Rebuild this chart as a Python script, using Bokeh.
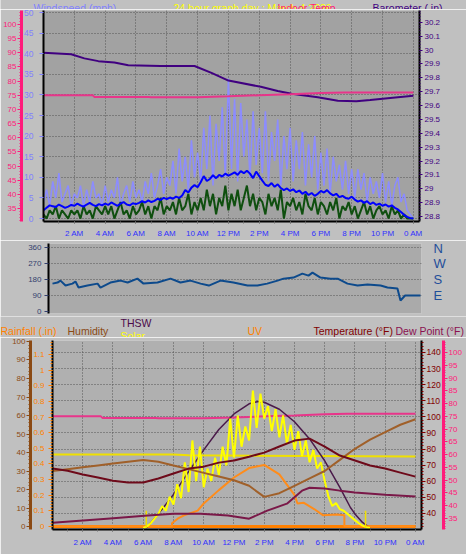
from bokeh.plotting import figure
from bokeh.models import Range1d, LinearAxis, FixedTicker, NumeralTickFormatter
from bokeh.core.properties import value
from bokeh.layouts import column
from bokeh.embed import file_html
from bokeh.resources import INLINE

FONT = "Liberation Sans"
OUTER = "#c0c0c0"

# ---------------- data ----------------
hour_ticks = [2, 4, 6, 8, 10, 12, 14, 16, 18, 20, 22, 24]
hour_labels = ["2 AM", "4 AM", "6 AM", "8 AM", "10 AM", "12 PM",
               "2 PM", "4 PM", "6 PM", "8 PM", "10 PM", "0 AM"]

top_titles = ["Windspeed (mph)", "24 hour graph day : March 4 2026", "Indoor Temp. ---",
              "Barometer (.in)"]
bottom_titles = ["Rainfall (.in)", "Humidity", "THSW", "Solar", "UV", "Temperature (°F)",
                 "Dew Point (°F)"]

# wind, every 12 minutes (hours)
wind_t = [i / 5 for i in range(121)]
wind_gust = [4, 7, 3, 9, 5, 11, 4, 6, 8, 3, 6,
             5, 8, 3, 7, 4, 9, 5, 6, 3, 8,
             4, 7, 5, 10, 3, 6, 8, 4, 9, 5,
             7, 4, 9, 6, 11, 5, 8, 12, 6, 10,
             8, 14, 6, 17, 9, 15, 7, 19, 10, 16,
             9, 22, 12, 25, 8, 23, 14, 27, 10, 34,
             12, 29, 9, 28, 15, 24, 10, 26, 13, 22,
             11, 26, 9, 21, 14, 24, 8, 20, 12, 22,
             9, 19, 12, 21, 8, 18, 10, 20, 7, 16,
             8, 17, 6, 15, 9, 13, 7, 14, 6, 12,
             5, 12, 7, 11, 4, 10, 6, 9, 5, 11,
             4, 9, 3, 8, 10, 4, 6, 2, 1, 0]
wind_avg = [2.0, 2.6, 3.2, 3.0, 2.8, 3.4, 3.0, 2.6, 2.9, 3.3, 3.1,
            3.6, 3.2, 2.9, 3.4, 3.8, 3.3, 3.0, 3.5, 3.2, 3.6,
            3.3, 3.9, 3.5, 3.1, 3.6, 4.0, 3.4, 3.2, 3.7, 3.5,
            3.8, 4.2, 3.9, 4.4, 4.0, 4.3, 4.8, 4.5, 5.0, 4.7,
            5.1, 4.8, 5.3, 5.0, 5.6, 6.9, 6.3, 7.5, 8.1, 7.6,
            8.8, 10.3, 9.1, 9.6, 10.5, 9.8, 10.6, 10.2, 10.9, 10.4,
            10.8, 11.2, 10.6, 11.5, 11.0, 11.6, 10.9, 9.8, 11.4, 10.3,
            9.2, 8.2, 7.9, 8.6, 7.7, 8.3, 7.4, 6.9, 7.3, 6.7,
            7.1, 6.4, 6.8, 6.0, 6.5, 5.7, 6.2, 5.5, 6.0, 6.7,
            6.3, 6.9, 6.1, 5.6, 6.0, 5.2, 5.5, 5.0, 4.8, 5.3,
            4.6, 4.1, 4.4, 3.8, 4.2, 3.5, 3.9, 3.3, 3.6, 3.1,
            3.4, 2.9, 3.2, 2.6, 2.2, 1.6, 0.9, 0.4, 0.1, 0.0]
wind_speed = [1, 0, 2, 1, 3, 0, 2, 1, 0, 2, 1,
              2, 0, 3, 1, 2, 0, 3, 2, 1, 3,
              1, 3, 0, 2, 4, 1, 2, 0, 3, 1,
              2, 4, 1, 3, 0, 3, 2, 5, 1, 3,
              2, 4, 1, 5, 2, 3, 6, 1, 4, 2,
              5, 2, 7, 3, 6, 1, 5, 3, 8, 2,
              6, 3, 7, 2, 5, 8, 3, 6, 2, 5,
              4, 1, 6, 3, 5, 2, 7, 0, 4, 3,
              5, 2, 4, 1, 6, 3, 2, 5, 1, 4,
              3, 1, 4, 2, 5, 0, 3, 2, 4, 1,
              3, 0, 2, 4, 1, 3, 0, 2, 3, 1,
              2, 0, 3, 1, 2, 0, 1, 0, 0, 0]

baro_t = [0.0, 1.8, 2.65, 3.56, 4.6, 5.5, 7.6, 9.8, 10.9, 12.0, 14.1, 15.2,
          16.1, 17.8, 19.1, 20.3, 21.2, 22.5, 24.0]
baro = [29.98, 29.97, 29.94, 29.92, 29.91, 29.89, 29.885, 29.885, 29.835, 29.78,
        29.735, 29.705, 29.685, 29.66, 29.635, 29.63, 29.64, 29.655, 29.67]

indoor_t = [0, 3.2, 3.3, 6.8, 7.0, 10.0, 12.0, 14.0, 16.0, 18.0, 19.5, 24.0]
indoor_temp = [75.0, 75.0, 74.4, 74.4, 74.3, 74.3, 74.6, 75.0, 75.3, 75.8, 76.0, 76.0]

dir_t = [0.0, 0.33, 0.52, 0.85, 1.3, 1.5, 1.7, 2.28, 2.94, 3.13, 3.78, 4.44, 4.9,
         5.54, 5.94, 6.85, 7.7, 8.35, 9.0, 9.66, 10.2, 10.96, 11.8, 12.72, 13.37,
         14.0, 14.68, 15.07, 15.72, 16.3, 16.7, 16.96, 17.48, 18.13, 18.6, 19.24,
         19.9, 20.55, 21.4, 21.85, 22.5, 22.7, 23.0, 24.0]
wind_dir = [157, 163, 174, 146, 157, 169, 135, 146, 157, 135, 163, 174, 163,
            185, 157, 163, 185, 163, 174, 157, 146, 174, 163, 146, 146,
            157, 174, 185, 191, 213, 202, 219, 191, 185, 185, 157,
            146, 152, 146, 135, 129, 62, 90, 90]
compass_ticks = [90, 180, 270, 360]
compass_labels = ["E", "S", "W", "N"]

bt = [0, 1, 2, 3, 4, 5, 6, 7, 8, 9, 10, 11, 12, 13, 14, 15, 16, 17, 18, 19, 20, 21, 22, 23, 24]
temperature = [67.9, 66.6, 64.2, 62.3, 60.4, 59.2, 59.2, 61.7, 64.8, 67.9, 69.1, 71.6, 72.9,
               75.3, 77.8, 81.6, 85.3, 86.5, 81.6, 76.0, 72.9, 69.8, 67.9, 65.4, 62.9]
humidity = [30, 31, 32, 33, 34, 35, 36, 35, 33, 31, 29, 27, 25, 22, 16, 18, 22, 26, 30,
            36, 42, 47, 51, 55, 58]
dew_t = [0, 3.6, 6.3, 8.0, 9.8, 11.6, 13.0, 14.2, 15.5, 16.5, 17, 18, 19, 20, 22, 24]
dew_point = [34.3, 36.8, 38.7, 39.9, 39.9, 38.7, 36.8, 41.8, 46.1, 54.2, 56.0, 55.5,
             54.2, 53.0, 51.7, 50.5]
in_hum_t = [0, 8, 9, 24]
in_humidity = [38.9, 38.9, 38.5, 37.8]
rain_t = [0, 24]
rain = [0.0, 0.0]
uv_t = [0, 7.9, 7.9, 8.3, 8.7, 9.6, 10.0, 11, 12, 13, 14, 15, 16, 16.2, 16.6, 17.3, 17.9,
        18.8, 19.3, 19.3, 24]
uv = [0, 0, 0.2, 0.5, 0.7, 1.0, 1.45, 2.3, 3.1, 3.7, 3.9, 3.3, 2.0, 1.45, 1.5, 1.1, 0.7,
      0.75, 0.7, 0, 0]
solar_t = [6 + i / 4 for i in range(61)]
solar = [0, 10, 30, 60, 90, 140, 110, 200, 150, 280, 190, 420, 230, 560, 300, 520,
         260, 380, 300, 450, 340, 520, 400, 700, 450, 720, 520, 650, 560, 880, 640, 860,
         700, 780, 620, 760, 580, 720, 540, 660, 500, 620, 460, 560, 420, 500, 380, 420,
         300, 200, 140, 160, 120, 110, 90, 70, 50, 30, 15, 5, 0]
clear_t = [6.2, 7, 7.7, 8, 9, 10, 11, 12, 13, 13.6, 14, 15, 16, 17, 18, 19, 19.7, 20, 20.5, 21]
clear_sky = [0, 90, 176, 215, 360, 500, 630, 730, 795, 810, 805, 760, 680, 570, 430, 260,
             131, 90, 35, 0]
sun_events = [6.2, 20.7]


def style_axis(ax, color, line_color=None, line_width=1, tick_out=4, minor_out=0,
               standoff=2, size="8px"):
    ax.axis_line_color = line_color
    ax.axis_line_width = line_width
    ax.major_tick_line_color = color
    ax.major_tick_out = tick_out
    ax.major_tick_in = 0
    ax.minor_tick_line_color = color
    ax.minor_tick_out = minor_out
    ax.minor_tick_in = 0
    ax.major_label_text_color = color
    ax.major_label_text_font = FONT
    ax.major_label_text_font_size = size
    ax.major_label_standoff = standoff


def style_grid(g):
    g.grid_line_color = "#555555"
    g.grid_line_dash = "1 2"
    g.grid_line_width = 1


def strip(height, xs, ys, texts, colors, margin=(0, 0, 0, 0)):
    s = figure(width=466, height=height, x_range=Range1d(0, 466), y_range=Range1d(0, height),
               output_backend="svg", toolbar_location=None, min_border=0, frame_align=False,
               x_axis_location=None, y_axis_location=None, background_fill_color=OUTER,
               border_fill_color=OUTER, outline_line_color=None, margin=margin)
    s.grid.visible = False
    s.text(x=xs, y=ys, text=texts, text_color=colors, text_font=value(FONT),
           text_font_size=value("10.5px"), text_baseline="alphabetic")
    return s


# ---------------- title strip (top): 21px tall, shifted up so that 9px show ----------------
strip_top = strip(21, [33, 173, 277, 372], [1.5, 1.5, 1.5, 1.5], top_titles,
                  ["#8080ff", "#ffff00", "#ff1a75", "#400080"], margin=(-12, 0, 0, 0))

# ---------------- top panel ----------------
top = figure(width=466, height=231, x_range=Range1d(0, 24.4), y_range=Range1d(-0.72, 50.48),
             output_backend="svg", toolbar_location=None, frame_align=False,
             min_border_left=42, min_border_right=47, min_border_top=1, min_border_bottom=16,
             background_fill_color="#a2a2a2", border_fill_color=OUTER, outline_line_color=None)
top.extra_y_ranges = {"baro": Range1d(28.764, 30.285), "pink": Range1d(30.48, 104.87)}

xa = top.xaxis[0]
xa.ticker = FixedTicker(ticks=hour_ticks, minor_ticks=list(range(1, 25)))
xa.major_label_overrides = dict(zip(hour_ticks, hour_labels))
style_axis(xa, "#3030ff", "black", 2, tick_out=2, minor_out=2, standoff=5)
xa.major_tick_line_color = "#707070"
xa.minor_tick_line_color = "#707070"

wa = top.yaxis[0]
wa.ticker = FixedTicker(ticks=list(range(0, 51, 5)))
style_axis(wa, "#8080ff", "black", 2, tick_out=4, standoff=6, size="8.5px")

pa = LinearAxis(y_range_name="pink",
                ticker=FixedTicker(ticks=list(range(35, 101, 5)), minor_ticks=list(range(31, 105))))
style_axis(pa, "#ff1a7a", "#ff1a7a", 3, tick_out=4, minor_out=2, standoff=1)
top.add_layout(pa, "left")

ba = LinearAxis(y_range_name="baro",
                ticker=FixedTicker(ticks=[28.8 + i / 10 for i in range(15)],
                                   minor_ticks=[28.78 + i / 50 for i in range(76)]),
                formatter=NumeralTickFormatter(format="0.[0]"))
style_axis(ba, "#400080", "black", 2, tick_out=3, minor_out=1, standoff=2)
top.add_layout(ba, "right")

style_grid(top.xgrid[0])
style_grid(top.ygrid[0])

top.line(wind_t, wind_gust, line_color="#8c8cff", line_width=1.5)
top.line(wind_t, wind_speed, line_color="#0f4f0f", line_width=2)
top.line(wind_t, wind_avg, line_color="#0000ff", line_width=2)
top.line(baro_t, baro, y_range_name="baro", line_color="#400080", line_width=2)
top.line(indoor_t, indoor_temp, y_range_name="pink", line_color="#e8358a", line_width=2)

# ---------------- middle panel ----------------
mid = figure(width=466, height=76, x_range=Range1d(-0.26, 24.07), y_range=Range1d(-11, 382.5),
             output_backend="svg", toolbar_location=None, x_axis_location=None, frame_align=False,
             min_border_left=48, min_border_right=45, min_border_top=3, min_border_bottom=3,
             background_fill_color="#aaaaaa", border_fill_color=OUTER, outline_line_color=None)
da = mid.yaxis[0]
da.ticker = FixedTicker(ticks=[0, 90, 180, 270, 360])
style_axis(da, "#34406e", "black", 2, tick_out=4, standoff=3)
ca = LinearAxis(ticker=FixedTicker(ticks=compass_ticks),
                major_label_overrides=dict(zip(compass_ticks, compass_labels)))
style_axis(ca, "#1f4e9a", None, 1, tick_out=0, standoff=12, size="13px")
mid.add_layout(ca, "right")
mid.xgrid.visible = False
style_grid(mid.ygrid[0])
mid.ygrid[0].ticker = FixedTicker(ticks=compass_ticks)
mid.line(dir_t, wind_dir, line_color="#0d4a8c", line_width=2)

# ---------------- title strip (bottom) ----------------
strip_bot = strip(21, [0, 67, 120, 120, 247, 313, 395], [7, 7, 15, 2, 7, 7, 7], bottom_titles,
                  ["#ff8000", "#8b4a14", "#4a0a4a", "#ffff00", "#ff8000", "#800000", "#8b1050"])

# ---------------- bottom panel ----------------
bot = figure(width=466, height=217, x_range=Range1d(0, 24.4), y_range=Range1d(30.06, 147.45),
             output_backend="svg", toolbar_location=None, y_axis_location="right", frame_align=False,
             min_border_left=52, min_border_right=45, min_border_top=3, min_border_bottom=25,
             background_fill_color="#b0b0b0", border_fill_color=OUTER, outline_line_color=None)
bot.extra_y_ranges = {"pink": Range1d(30.7, 104.7), "hum": Range1d(-1.62, 100.54),
                      "rain": Range1d(-0.019, 1.19), "solar": Range1d(-10, 1200),
                      "uv": Range1d(-0.2, 11.8)}

bx = bot.xaxis[0]
bx.ticker = FixedTicker(ticks=hour_ticks, minor_ticks=list(range(1, 25)))
bx.major_label_overrides = dict(zip(hour_ticks, hour_labels))
style_axis(bx, "#3030ff", "black", 2, tick_out=2, minor_out=2, standoff=6)
bx.major_tick_line_color = "#707070"
bx.minor_tick_line_color = "#707070"

ta = bot.yaxis[0]
ta.ticker = FixedTicker(ticks=list(range(40, 141, 10)), minor_ticks=list(range(32, 148, 2)))
style_axis(ta, "#800000", "black", 2, tick_out=4, minor_out=2, standoff=1, size="8.5px")

pb = LinearAxis(y_range_name="pink",
                ticker=FixedTicker(ticks=list(range(35, 101, 5)), minor_ticks=list(range(31, 105))))
style_axis(pb, "#ff1a7a", "#ff1a7a", 3, tick_out=4, minor_out=2, standoff=1)
bot.add_layout(pb, "right")

ra = LinearAxis(y_range_name="rain",
                ticker=FixedTicker(ticks=[i / 10 for i in range(13)],
                                   minor_ticks=[i / 50 for i in range(60)]),
                formatter=NumeralTickFormatter(format="0.[0]"))
style_axis(ra, "#ff8000", "black", 2, tick_out=4, minor_out=2, standoff=4)
bot.add_layout(ra, "left")

ha = LinearAxis(y_range_name="hum",
                ticker=FixedTicker(ticks=list(range(0, 101, 10)), minor_ticks=list(range(0, 101, 2))))
style_axis(ha, "#8b4a14", "#8b4a14", 3, tick_out=4, minor_out=2, standoff=1)
bot.add_layout(ha, "left")

style_grid(bot.xgrid[0])
style_grid(bot.ygrid[0])

bot.line(rain_t, rain, y_range_name="rain", line_color="#ff8000", line_width=3)
bot.line(in_hum_t, in_humidity, y_range_name="hum", line_color="#f0e000", line_width=2)
bot.line(indoor_t, indoor_temp, y_range_name="pink", line_color="#e8358a", line_width=2)
bot.line(clear_t, clear_sky, y_range_name="solar", line_color="#4a1a4a", line_width=1.5)
bot.line(uv_t, uv, y_range_name="uv", line_color="#ff8c1a", line_width=2)
bot.line(solar_t, solar, y_range_name="solar", line_color="#ffff00", line_width=2)
bot.segment(x0=sun_events, y0=[0, 0], x1=sun_events, y1=[110, 110], y_range_name="solar",
            line_color="#f0e000", line_width=1.5)
bot.line(bt, humidity, y_range_name="hum", line_color="#a0602a", line_width=2)
bot.line(dew_t, dew_point, line_color="#7a1848", line_width=2)
bot.line(bt, temperature, line_color="#6e0a1a", line_width=2)

layout = column(strip_top, top, mid, strip_bot, bot, spacing=0)
open("out.html", "w").write(file_html(layout, INLINE))
